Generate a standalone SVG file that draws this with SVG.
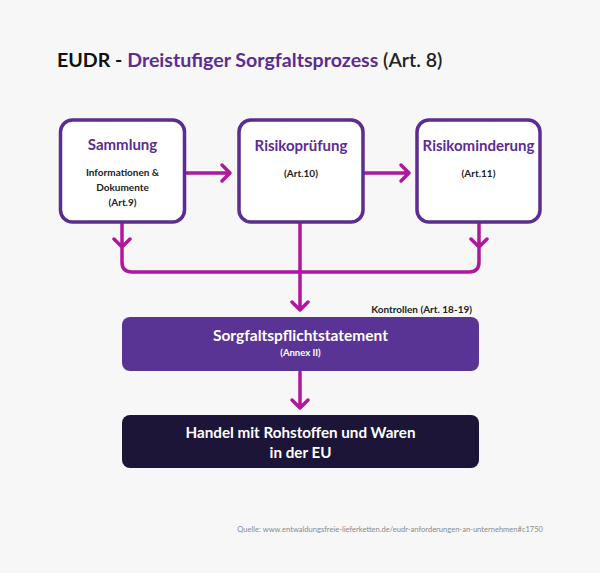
<svg xmlns="http://www.w3.org/2000/svg" width="600" height="573" viewBox="0 0 600 573">
<style>
text{font-family:Lato,"Liberation Sans",sans-serif}
.box{fill:#fff;stroke:#5b2d91;stroke-width:3.5}
.h{font-size:15px;font-weight:bold;fill:#5b2d91;text-anchor:middle}
.s{font-size:10px;font-weight:bold;fill:#222;text-anchor:middle}
.c{fill:none;stroke:#b0179f;stroke-width:3.5;stroke-linecap:round;stroke-linejoin:round}
.w{fill:#fff;text-anchor:middle;font-weight:bold}
</style>
<rect width="600" height="573" fill="#f7f7f7"/>
<text x="57" y="67" font-size="19.6" font-weight="bold"><tspan fill="#111">EUDR - </tspan><tspan fill="#5b2d91">Dreistufiger Sorgfaltsprozess </tspan><tspan fill="#222" font-weight="600">(Art. 8)</tspan></text>
<g id="connectors">
<path class="c" d="M186 173H230M222 165L230 173L222 181"/>
<path class="c" d="M364 173H409M401 165L409 173L401 181"/>
<path class="c" d="M122 223V262Q122 272 132 272H469Q479 272 479 262V223M114 239L122 247L130 239M471 239L479 247L487 239"/>
<path class="c" d="M300 223V310M292 302L300 310L308 302"/>
<path class="c" d="M300 372V408M292 400L300 408L308 400"/>
</g>
<g id="sammlung">
<rect class="box" x="60.5" y="120" width="124" height="102" rx="12"/>
<text class="h" x="122.5" y="150">Sammlung</text>
<text class="s" x="122.5" y="176">Informationen &amp;</text>
<text class="s" x="122.5" y="191">Dokumente</text>
<text class="s" x="122.5" y="206">(Art.9)</text>
</g>
<g id="risikopruefung">
<rect class="box" x="239" y="120" width="124" height="102" rx="12"/>
<text class="h" x="301" y="151">Risikoprüfung</text>
<text class="s" x="301" y="177">(Art.10)</text>
</g>
<g id="risikominderung">
<rect class="box" x="417" y="120" width="123" height="102" rx="12"/>
<text class="h" x="478.5" y="151">Risikominderung</text>
<text class="s" x="478.5" y="177">(Art.11)</text>
</g>
<g id="statement">
<text x="472" y="313" font-size="10" font-weight="bold" fill="#222" text-anchor="end">Kontrollen (Art. 18-19)</text>
<rect x="122" y="317" width="357" height="54" rx="8" fill="#5a3494"/>
<text class="w" x="300.5" y="341" font-size="15.5">Sorgfaltspflichtstatement</text>
<text class="w" x="300.5" y="356" font-size="9.5" font-weight="normal">(Annex II)</text>
</g>
<g id="handel">
<rect x="122" y="415" width="357" height="53" rx="8" fill="#1c1538"/>
<text class="w" x="300.5" y="438" font-size="15.2">Handel mit Rohstoffen und Waren</text>
<text class="w" x="300.5" y="458" font-size="15.2">in der EU</text>
</g>
<text x="543" y="532" font-size="7.55" fill="#8a8a8a" text-anchor="end">Quelle: www.entwaldungsfreie-lieferketten.de/eudr-anforderungen-an-unternehmen#c1750</text>
</svg>
